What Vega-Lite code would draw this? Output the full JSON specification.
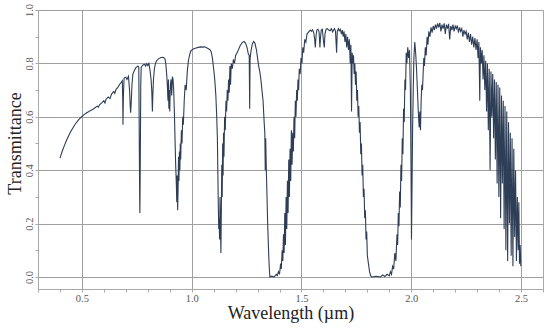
{
  "$schema": "https://vega.github.io/schema/vega-lite/v6.json",
  "width": 505,
  "height": 279,
  "autosize": {"type": "none"},
  "padding": {"left": 38, "top": 10, "right": 7, "bottom": 39},
  "background": "white",
  "config": {
    "view": {"stroke": "#a8a8a8", "strokeWidth": 1},
    "axis": {"labelFont": "Liberation Serif", "titleFont": "Liberation Serif", "labelColor": "#555555", "titleColor": "#222222", "titleFontWeight": "normal", "domainColor": "#a8a8a8", "tickColor": "#a8a8a8", "tickSize": 3, "gridColor": "#a0a0a0", "gridWidth": 1}
  },
  "data": {"values": [
    {"w":0.400,"t":0.445},{"w":0.410,"t":0.470},{"w":0.420,"t":0.492},{"w":0.430,"t":0.512},{"w":0.440,"t":0.530},{"w":0.450,"t":0.546},{"w":0.460,"t":0.560},{"w":0.470,"t":0.573},{"w":0.480,"t":0.584},{"w":0.490,"t":0.593},{"w":0.500,"t":0.601},{"w":0.510,"t":0.608},{"w":0.520,"t":0.614},{"w":0.530,"t":0.619},{"w":0.540,"t":0.624},{"w":0.550,"t":0.628},{"w":0.560,"t":0.634},{"w":0.570,"t":0.640},{"w":0.575,"t":0.636},{"w":0.580,"t":0.645},{"w":0.590,"t":0.652},{"w":0.600,"t":0.660},{"w":0.605,"t":0.652},{"w":0.610,"t":0.666},{"w":0.620,"t":0.674},{"w":0.628,"t":0.668},{"w":0.635,"t":0.685},{"w":0.645,"t":0.695},{"w":0.650,"t":0.688},{"w":0.655,"t":0.702},{"w":0.665,"t":0.712},{"w":0.672,"t":0.722},{"w":0.680,"t":0.730},{"w":0.684,"t":0.735},{"w":0.686,"t":0.66},{"w":0.687,"t":0.57},{"w":0.689,"t":0.68},{"w":0.692,"t":0.745},{"w":0.700,"t":0.748},{"w":0.705,"t":0.740},{"w":0.712,"t":0.752},{"w":0.717,"t":0.70},{"w":0.720,"t":0.64},{"w":0.722,"t":0.615},{"w":0.725,"t":0.66},{"w":0.728,"t":0.72},{"w":0.732,"t":0.76},{"w":0.740,"t":0.775},{"w":0.745,"t":0.783},{"w":0.750,"t":0.787},{"w":0.755,"t":0.790},{"w":0.759,"t":0.785},{"w":0.761,"t":0.55},{"w":0.763,"t":0.30},{"w":0.764,"t":0.24},{"w":0.766,"t":0.45},{"w":0.768,"t":0.72},{"w":0.770,"t":0.785},{"w":0.775,"t":0.792},{"w":0.780,"t":0.795},{"w":0.785,"t":0.797},{"w":0.790,"t":0.790},{"w":0.795,"t":0.799},{"w":0.800,"t":0.792},{"w":0.805,"t":0.800},{"w":0.810,"t":0.775},{"w":0.815,"t":0.74},{"w":0.818,"t":0.70},{"w":0.821,"t":0.62},{"w":0.823,"t":0.68},{"w":0.826,"t":0.74},{"w":0.830,"t":0.78},{"w":0.835,"t":0.800},{"w":0.840,"t":0.810},{"w":0.850,"t":0.818},{"w":0.860,"t":0.822},{"w":0.870,"t":0.823},{"w":0.878,"t":0.818},{"w":0.882,"t":0.80},{"w":0.886,"t":0.76},{"w":0.889,"t":0.72},{"w":0.892,"t":0.66},{"w":0.894,"t":0.74},{"w":0.896,"t":0.63},{"w":0.898,"t":0.70},{"w":0.900,"t":0.62},{"w":0.903,"t":0.72},{"w":0.906,"t":0.74},{"w":0.909,"t":0.68},{"w":0.912,"t":0.75},{"w":0.915,"t":0.74},{"w":0.918,"t":0.70},{"w":0.921,"t":0.62},{"w":0.924,"t":0.52},{"w":0.927,"t":0.42},{"w":0.930,"t":0.35},{"w":0.932,"t":0.28},{"w":0.934,"t":0.38},{"w":0.936,"t":0.25},{"w":0.938,"t":0.33},{"w":0.940,"t":0.45},{"w":0.942,"t":0.36},{"w":0.944,"t":0.47},{"w":0.946,"t":0.40},{"w":0.948,"t":0.50},{"w":0.950,"t":0.44},{"w":0.953,"t":0.55},{"w":0.956,"t":0.50},{"w":0.959,"t":0.60},{"w":0.962,"t":0.57},{"w":0.966,"t":0.66},{"w":0.970,"t":0.72},{"w":0.975,"t":0.70},{"w":0.980,"t":0.77},{"w":0.985,"t":0.81},{"w":0.990,"t":0.83},{"w":0.995,"t":0.845},{"w":1.000,"t":0.85},{"w":1.010,"t":0.855},{"w":1.020,"t":0.858},{"w":1.030,"t":0.860},{"w":1.040,"t":0.862},{"w":1.050,"t":0.861},{"w":1.060,"t":0.862},{"w":1.070,"t":0.858},{"w":1.080,"t":0.853},{"w":1.085,"t":0.85},{"w":1.090,"t":0.84},{"w":1.095,"t":0.815},{"w":1.100,"t":0.78},{"w":1.105,"t":0.74},{"w":1.110,"t":0.68},{"w":1.114,"t":0.60},{"w":1.117,"t":0.52},{"w":1.119,"t":0.40},{"w":1.121,"t":0.28},{"w":1.123,"t":0.18},{"w":1.125,"t":0.22},{"w":1.127,"t":0.14},{"w":1.129,"t":0.30},{"w":1.131,"t":0.20},{"w":1.133,"t":0.09},{"w":1.135,"t":0.25},{"w":1.137,"t":0.42},{"w":1.139,"t":0.30},{"w":1.141,"t":0.50},{"w":1.143,"t":0.38},{"w":1.145,"t":0.54},{"w":1.147,"t":0.45},{"w":1.150,"t":0.60},{"w":1.153,"t":0.55},{"w":1.156,"t":0.66},{"w":1.159,"t":0.62},{"w":1.162,"t":0.70},{"w":1.165,"t":0.66},{"w":1.168,"t":0.74},{"w":1.171,"t":0.69},{"w":1.174,"t":0.79},{"w":1.177,"t":0.72},{"w":1.180,"t":0.80},{"w":1.185,"t":0.78},{"w":1.190,"t":0.815},{"w":1.195,"t":0.80},{"w":1.200,"t":0.83},{"w":1.210,"t":0.845},{"w":1.220,"t":0.865},{"w":1.230,"t":0.878},{"w":1.238,"t":0.882},{"w":1.245,"t":0.876},{"w":1.252,"t":0.86},{"w":1.258,"t":0.835},{"w":1.262,"t":0.83},{"w":1.264,"t":0.63},{"w":1.266,"t":0.82},{"w":1.270,"t":0.845},{"w":1.276,"t":0.872},{"w":1.282,"t":0.882},{"w":1.288,"t":0.876},{"w":1.295,"t":0.85},{"w":1.300,"t":0.82},{"w":1.305,"t":0.79},{"w":1.310,"t":0.77},{"w":1.315,"t":0.74},{"w":1.320,"t":0.70},{"w":1.325,"t":0.66},{"w":1.330,"t":0.58},{"w":1.333,"t":0.54},{"w":1.335,"t":0.40},{"w":1.337,"t":0.52},{"w":1.340,"t":0.40},{"w":1.343,"t":0.30},{"w":1.346,"t":0.20},{"w":1.350,"t":0.10},{"w":1.353,"t":0.04},{"w":1.356,"t":0.0},{"w":1.365,"t":0.003},{"w":1.375,"t":0.0},{"w":1.385,"t":0.01},{"w":1.390,"t":0.005},{"w":1.395,"t":0.02},{"w":1.400,"t":0.01},{"w":1.405,"t":0.05},{"w":1.408,"t":0.03},{"w":1.412,"t":0.10},{"w":1.415,"t":0.06},{"w":1.418,"t":0.16},{"w":1.421,"t":0.09},{"w":1.424,"t":0.24},{"w":1.427,"t":0.12},{"w":1.430,"t":0.30},{"w":1.433,"t":0.18},{"w":1.436,"t":0.36},{"w":1.439,"t":0.24},{"w":1.442,"t":0.44},{"w":1.445,"t":0.30},{"w":1.448,"t":0.48},{"w":1.451,"t":0.36},{"w":1.454,"t":0.55},{"w":1.457,"t":0.42},{"w":1.460,"t":0.54},{"w":1.463,"t":0.47},{"w":1.466,"t":0.60},{"w":1.469,"t":0.52},{"w":1.472,"t":0.66},{"w":1.475,"t":0.60},{"w":1.478,"t":0.70},{"w":1.481,"t":0.66},{"w":1.484,"t":0.74},{"w":1.487,"t":0.70},{"w":1.490,"t":0.78},{"w":1.494,"t":0.76},{"w":1.498,"t":0.82},{"w":1.502,"t":0.80},{"w":1.506,"t":0.86},{"w":1.510,"t":0.84},{"w":1.515,"t":0.89},{"w":1.520,"t":0.88},{"w":1.525,"t":0.91},{"w":1.530,"t":0.915},{"w":1.535,"t":0.92},{"w":1.540,"t":0.925},{"w":1.545,"t":0.92},{"w":1.550,"t":0.926},{"w":1.556,"t":0.915},{"w":1.560,"t":0.89},{"w":1.563,"t":0.86},{"w":1.566,"t":0.90},{"w":1.570,"t":0.925},{"w":1.575,"t":0.928},{"w":1.580,"t":0.92},{"w":1.584,"t":0.86},{"w":1.587,"t":0.90},{"w":1.590,"t":0.925},{"w":1.595,"t":0.928},{"w":1.600,"t":0.885},{"w":1.604,"t":0.86},{"w":1.607,"t":0.91},{"w":1.612,"t":0.928},{"w":1.618,"t":0.93},{"w":1.624,"t":0.925},{"w":1.630,"t":0.922},{"w":1.636,"t":0.93},{"w":1.642,"t":0.918},{"w":1.646,"t":0.925},{"w":1.650,"t":0.93},{"w":1.655,"t":0.92},{"w":1.660,"t":0.84},{"w":1.663,"t":0.92},{"w":1.668,"t":0.93},{"w":1.672,"t":0.922},{"w":1.677,"t":0.928},{"w":1.682,"t":0.91},{"w":1.686,"t":0.925},{"w":1.690,"t":0.90},{"w":1.694,"t":0.92},{"w":1.698,"t":0.88},{"w":1.702,"t":0.91},{"w":1.706,"t":0.86},{"w":1.710,"t":0.90},{"w":1.714,"t":0.85},{"w":1.718,"t":0.89},{"w":1.722,"t":0.80},{"w":1.725,"t":0.87},{"w":1.728,"t":0.62},{"w":1.731,"t":0.84},{"w":1.734,"t":0.80},{"w":1.737,"t":0.83},{"w":1.740,"t":0.76},{"w":1.743,"t":0.80},{"w":1.746,"t":0.72},{"w":1.749,"t":0.77},{"w":1.752,"t":0.66},{"w":1.755,"t":0.70},{"w":1.758,"t":0.60},{"w":1.761,"t":0.64},{"w":1.764,"t":0.54},{"w":1.767,"t":0.58},{"w":1.770,"t":0.46},{"w":1.773,"t":0.50},{"w":1.776,"t":0.38},{"w":1.779,"t":0.42},{"w":1.782,"t":0.30},{"w":1.785,"t":0.33},{"w":1.788,"t":0.22},{"w":1.791,"t":0.25},{"w":1.794,"t":0.14},{"w":1.797,"t":0.17},{"w":1.800,"t":0.08},{"w":1.805,"t":0.05},{"w":1.810,"t":0.02},{"w":1.815,"t":0.005},{"w":1.820,"t":0.0},{"w":1.840,"t":0.003},{"w":1.860,"t":0.0},{"w":1.870,"t":0.008},{"w":1.880,"t":0.002},{"w":1.890,"t":0.01},{"w":1.900,"t":0.004},{"w":1.905,"t":0.02},{"w":1.910,"t":0.01},{"w":1.915,"t":0.04},{"w":1.920,"t":0.03},{"w":1.925,"t":0.09},{"w":1.930,"t":0.06},{"w":1.935,"t":0.16},{"w":1.938,"t":0.12},{"w":1.941,"t":0.24},{"w":1.944,"t":0.19},{"w":1.947,"t":0.32},{"w":1.950,"t":0.26},{"w":1.953,"t":0.42},{"w":1.956,"t":0.36},{"w":1.959,"t":0.52},{"w":1.962,"t":0.46},{"w":1.965,"t":0.63},{"w":1.968,"t":0.58},{"w":1.971,"t":0.74},{"w":1.974,"t":0.70},{"w":1.977,"t":0.84},{"w":1.980,"t":0.80},{"w":1.984,"t":0.86},{"w":1.988,"t":0.82},{"w":1.992,"t":0.85},{"w":1.996,"t":0.70},{"w":1.999,"t":0.40},{"w":2.001,"t":0.14},{"w":2.003,"t":0.30},{"w":2.006,"t":0.55},{"w":2.009,"t":0.70},{"w":2.012,"t":0.82},{"w":2.016,"t":0.88},{"w":2.020,"t":0.84},{"w":2.024,"t":0.78},{"w":2.028,"t":0.70},{"w":2.032,"t":0.62},{"w":2.036,"t":0.56},{"w":2.039,"t":0.62},{"w":2.042,"t":0.55},{"w":2.045,"t":0.66},{"w":2.048,"t":0.72},{"w":2.051,"t":0.70},{"w":2.054,"t":0.76},{"w":2.057,"t":0.82},{"w":2.060,"t":0.79},{"w":2.064,"t":0.86},{"w":2.068,"t":0.83},{"w":2.072,"t":0.90},{"w":2.076,"t":0.87},{"w":2.080,"t":0.92},{"w":2.085,"t":0.90},{"w":2.090,"t":0.935},{"w":2.095,"t":0.915},{"w":2.100,"t":0.94},{"w":2.105,"t":0.925},{"w":2.110,"t":0.945},{"w":2.115,"t":0.93},{"w":2.120,"t":0.95},{"w":2.125,"t":0.935},{"w":2.130,"t":0.952},{"w":2.135,"t":0.92},{"w":2.140,"t":0.945},{"w":2.145,"t":0.93},{"w":2.150,"t":0.95},{"w":2.155,"t":0.91},{"w":2.160,"t":0.945},{"w":2.165,"t":0.93},{"w":2.170,"t":0.948},{"w":2.175,"t":0.89},{"w":2.180,"t":0.94},{"w":2.185,"t":0.925},{"w":2.190,"t":0.945},{"w":2.195,"t":0.92},{"w":2.200,"t":0.94},{"w":2.205,"t":0.93},{"w":2.210,"t":0.942},{"w":2.215,"t":0.915},{"w":2.220,"t":0.935},{"w":2.225,"t":0.92},{"w":2.230,"t":0.93},{"w":2.235,"t":0.90},{"w":2.240,"t":0.925},{"w":2.245,"t":0.91},{"w":2.250,"t":0.92},{"w":2.255,"t":0.89},{"w":2.260,"t":0.915},{"w":2.265,"t":0.88},{"w":2.270,"t":0.91},{"w":2.275,"t":0.87},{"w":2.280,"t":0.90},{"w":2.285,"t":0.86},{"w":2.290,"t":0.895},{"w":2.295,"t":0.85},{"w":2.300,"t":0.89},{"w":2.304,"t":0.82},{"w":2.308,"t":0.88},{"w":2.312,"t":0.66},{"w":2.315,"t":0.86},{"w":2.319,"t":0.80},{"w":2.323,"t":0.85},{"w":2.327,"t":0.74},{"w":2.331,"t":0.83},{"w":2.335,"t":0.70},{"w":2.339,"t":0.81},{"w":2.343,"t":0.62},{"w":2.347,"t":0.80},{"w":2.351,"t":0.55},{"w":2.355,"t":0.78},{"w":2.359,"t":0.40},{"w":2.363,"t":0.77},{"w":2.367,"t":0.60},{"w":2.371,"t":0.76},{"w":2.375,"t":0.52},{"w":2.379,"t":0.74},{"w":2.383,"t":0.44},{"w":2.387,"t":0.73},{"w":2.391,"t":0.35},{"w":2.395,"t":0.72},{"w":2.399,"t":0.30},{"w":2.403,"t":0.71},{"w":2.407,"t":0.22},{"w":2.411,"t":0.68},{"w":2.415,"t":0.35},{"w":2.419,"t":0.66},{"w":2.423,"t":0.18},{"w":2.427,"t":0.64},{"w":2.431,"t":0.10},{"w":2.435,"t":0.62},{"w":2.439,"t":0.06},{"w":2.443,"t":0.58},{"w":2.447,"t":0.20},{"w":2.451,"t":0.54},{"w":2.455,"t":0.08},{"w":2.459,"t":0.52},{"w":2.463,"t":0.04},{"w":2.467,"t":0.48},{"w":2.471,"t":0.15},{"w":2.475,"t":0.40},{"w":2.479,"t":0.06},{"w":2.483,"t":0.30},{"w":2.487,"t":0.10},{"w":2.490,"t":0.28},{"w":2.493,"t":0.05},{"w":2.496,"t":0.12},{"w":2.499,"t":0.04}
  ]},
  "mark": {"type": "line", "color": "#2e3e56", "strokeWidth": 1.1, "interpolate": "linear"},
  "encoding": {
    "x": {
      "field": "w", "type": "quantitative",
      "scale": {"domain": [0.3, 2.6], "nice": false, "zero": false},
      "axis": {
        "title": "Wavelength (µm)", "titleFontSize": 18, "titleBaseline": "alphabetic", "titleY": 29,
        "values": [0.3,0.4,0.5,0.6,0.7,0.8,0.9,1.0,1.1,1.2,1.3,1.4,1.5,1.6,1.7,1.8,1.9,2.0,2.1,2.2,2.3,2.4,2.5,2.6],
        "labelExpr": "abs(datum.value*2 - round(datum.value*2)) < 0.01 ? format(datum.value, '.1f') : ''",
        "labelFontSize": 10.5, "labelPadding": 1, "labelFlush": false, "labelOverlap": false,
        "grid": true,
        "gridOpacity": {"condition": {"test": "abs(datum.value*2 - round(datum.value*2)) < 0.01", "value": 1}, "value": 0}
      }
    },
    "y": {
      "field": "t", "type": "quantitative",
      "scale": {"domain": [-0.045, 1.0], "nice": false, "zero": false},
      "axis": {
        "title": "Transmittance", "titleFontSize": 18, "titleBaseline": "alphabetic", "titleX": -18, "titleY": 133,
        "values": [0,0.1,0.2,0.3,0.4,0.5,0.6,0.7,0.8,0.9,1.0],
        "labelExpr": "abs(datum.value*5 - round(datum.value*5)) < 0.01 ? format(datum.value, '.1f') : ''",
        "labelFontSize": 10.5, "labelAngle": -90, "labelPadding": 1, "labelFlush": false, "labelOverlap": false,
        "grid": true,
        "gridOpacity": {"condition": {"test": "abs(datum.value*5 - round(datum.value*5)) < 0.01", "value": 1}, "value": 0}
      }
    }
  }
}
